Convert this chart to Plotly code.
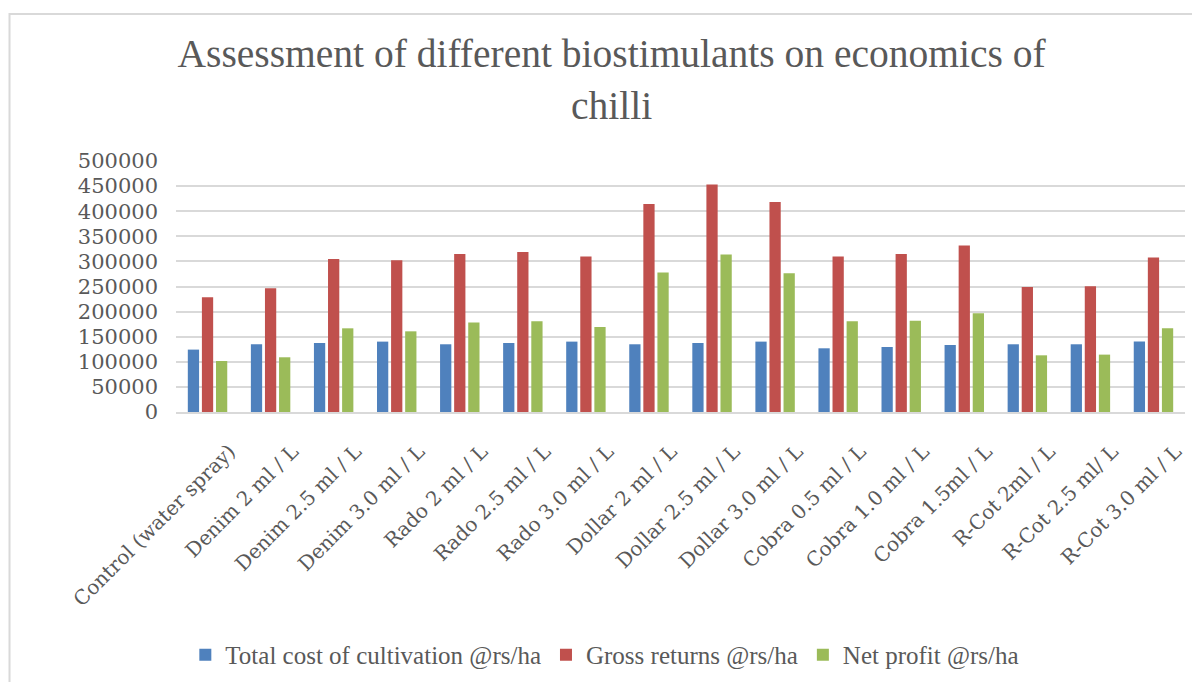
import plotly.graph_objects as go

categories = ["Control (water spray)", "Denim 2 ml / L", "Denim 2.5 ml / L", "Denim 3.0 ml / L",
              "Rado 2 ml / L", "Rado 2.5 ml / L", "Rado 3.0 ml / L", "Dollar 2 ml / L",
              "Dollar 2.5 ml / L", "Dollar 3.0 ml / L", "Cobra 0.5 ml / L", "Cobra 1.0 ml / L",
              "Cobra 1.5ml / L", "R-Cot 2ml / L", "R-Cot 2.5 ml/ L", "R-Cot 3.0 ml / L"]

total_cost = [124300, 134900, 137500, 140200, 134900, 137500, 140200, 134900,
              137500, 140200, 126900, 129500, 133500, 134900, 134900, 140200]
gross_returns = [228500, 246400, 304800, 302200, 314700, 318700, 309600, 414300,
                 453000, 418300, 309600, 314700, 331500, 249000, 250400, 307600]
net_profit = [101600, 109000, 166700, 160700, 178100, 180700, 169300, 277700,
              313500, 276300, 180700, 182000, 196600, 112900, 114300, 166700]

series_names = ["Total cost of cultivation @rs/ha", "Gross returns @rs/ha", "Net profit @rs/ha"]
colors = ["#4F81BD", "#C0504D", "#9BBB59"]

fig = go.Figure()
for name, vals, col in zip(series_names, [total_cost, gross_returns, net_profit], colors):
    fig.add_trace(go.Bar(x=categories, y=vals, name=name, marker=dict(color=col, line=dict(width=0))))

fig.update_layout(
    width=1200, height=682,
    paper_bgcolor="white", plot_bgcolor="white",
    margin=dict(l=168, r=23, t=153, b=278, autoexpand=False),
    barmode="group", bargap=0.33, bargroupgap=0.2,
    title=dict(text="Assessment of different biostimulants on economics of<br>chilli",
               x=0.503, xanchor="center", y=0.913, yanchor="top",
               font=dict(family="Liberation Serif", size=39.5, color="#595959")),
    legend=dict(orientation="h", x=0.425, xanchor="center", y=-0.968, yanchor="middle",
                font=dict(family="Liberation Serif", size=25, color="#595959"),
                itemwidth=30, traceorder="normal"),
    showlegend=True,
)
fig.update_yaxes(range=[0, 500000], dtick=50000, showgrid=True, gridcolor="#D9D9D9", gridwidth=1.5,
                 zeroline=False, showline=False, ticks="", tickformat="d", automargin=False,
                 ticklabelstandoff=17,
                 tickfont=dict(family="DejaVu Serif", size=21, color="#595959"))
fig.update_xaxes(tickangle=-45, showline=True, linecolor="#D9D9D9", linewidth=1.5, ticks="",
                 automargin=False, ticklabelshift=22, ticklabelstandoff=18,
                 tickfont=dict(family="DejaVu Serif", size=20, color="#595959"))

fig.add_shape(type="path", xref="paper", yref="paper",
              path="M -0.165,-1.08 L -0.165,1.5857 L 1.03,1.5857",
              line=dict(color="#D9D9D9", width=2))

fig.write_html("out.html")
